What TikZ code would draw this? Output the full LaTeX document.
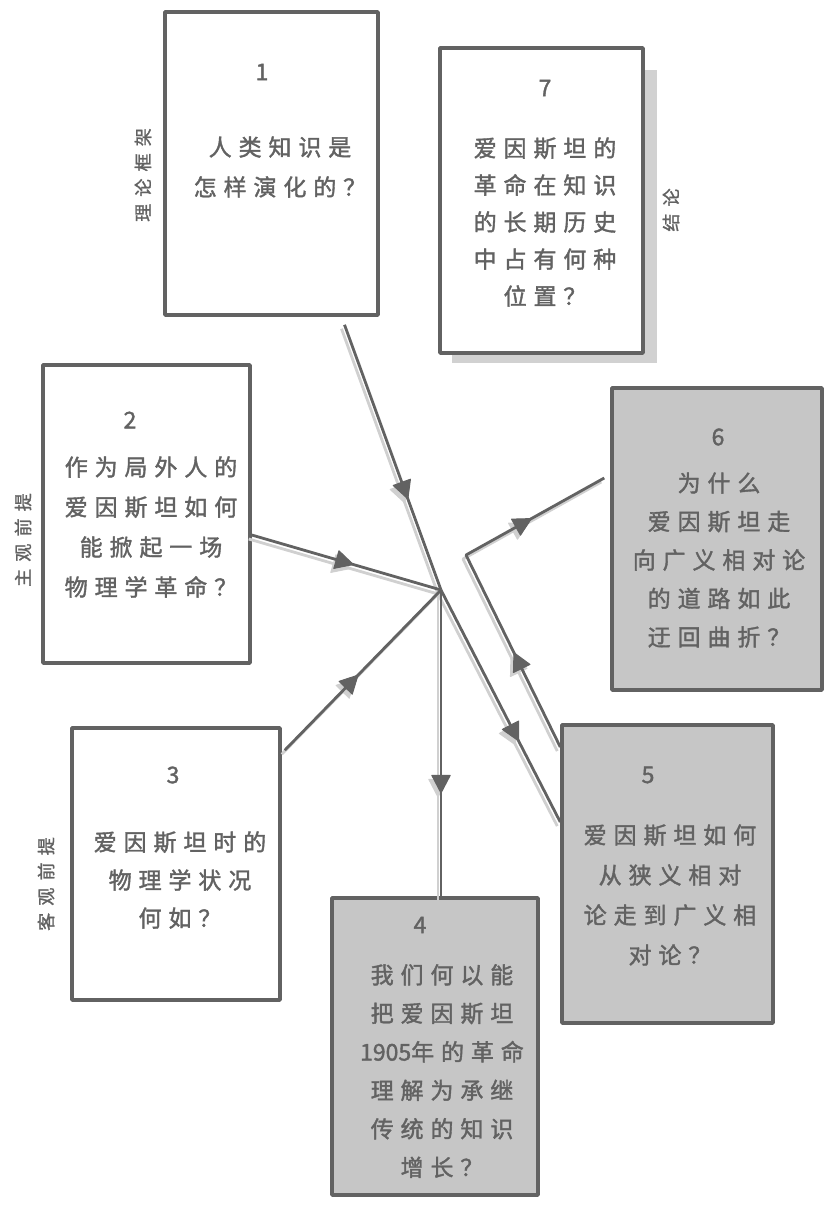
\documentclass[tikz,border=0pt]{standalone}
\usepackage{fontspec}
\setmainfont{Noto Sans CJK SC}
\newfontfamily\cjk[LetterSpace=30,FakeBold=1.6]{Noto Sans CJK SC}
\newfontfamily\cjktight[FakeBold=1.6]{Noto Sans CJK SC}
\newfontfamily\cjkside[LetterSpace=40,FakeBold=1.4]{Noto Sans CJK SC}
\usetikzlibrary{shapes.geometric}
\definecolor{ink}{HTML}{626262}
\definecolor{shade}{HTML}{C6C6C6}
\definecolor{faint}{HTML}{D0D0D0}
\tikzset{
  box/.style={draw=ink, line width=3.5pt, fill=white, inner sep=0pt, line join=round},
  graybox/.style={box, fill=shade},
  qtext/.style={text=ink, font=\cjk\fontsize{23}{38}\selectfont, align=center, inner sep=0pt},
  num/.style={text=ink, font=\cjktight\fontsize{23}{24}\selectfont, inner sep=0pt},
  side/.style={text=ink, font=\cjkside\fontsize{18}{20}\selectfont, rotate=90, inner sep=0pt},
  conn/.style={draw=#1, line width=2.8pt, line join=round},
  ahead/.style={isosceles triangle, isosceles triangle apex angle=55, draw=#1, fill=#1,
     line width=1pt, inner sep=4.5pt, sloped, allow upside down, anchor=center},
}
\newcommand\drawlinks[2]{%
  \draw[conn=#1] (p1) -- (C) node[ahead=#1, pos=0.61] (#2a1) {};
  \draw[conn=#1] (C) -- (p5a) node[ahead=#1, pos=0.60] (#2a2) {};
  \draw[conn=#1] (p2) -- (C) node[ahead=#1, pos=0.47] (#2a3) {};
  \draw[conn=#1] (p3) -- (C) node[ahead=#1, pos=0.41] (#2a4) {};
  \draw[conn=#1] (C) -- (p4) node[ahead=#1, pos=0.62] (#2a5) {};
  \draw[conn=#1] (p5b) -- (B) node[ahead=#1, pos=0.43] (#2a6) {} -- (p6) node[ahead=#1, pos=0.39] (#2a7) {};
}
\begin{document}
\begin{tikzpicture}[x=1pt,y=1pt]
\useasboundingbox (0,0) rectangle (827,-1209);
\fill[white] (0,0) rectangle (827,-1209);

% shadow of box 7
\fill[shade!80] (452,-70) rectangle (657,-363);

% boxes
\node[box, minimum width=213pt, minimum height=303pt] (b1) at (271.5,-163.5) {};
\node[box, minimum width=203pt, minimum height=305pt] (b7) at (541.5,-200.5) {};
\node[box, minimum width=207pt, minimum height=298pt] (b2) at (146.5,-514) {};
\node[box, minimum width=208pt, minimum height=272pt] (b3) at (176,-864) {};
\node[graybox, minimum width=206pt, minimum height=297pt] (b4) at (435,-1046.5) {};
\node[graybox, minimum width=211pt, minimum height=298pt] (b5) at (667.5,-874) {};
\node[graybox, minimum width=210pt, minimum height=302pt] (b6) at (717,-539) {};

% connector end points
\coordinate (C) at (441,-590);
\coordinate (B) at (466,-555);
\coordinate (p1) at ([xshift=73pt,yshift=-8pt]b1.south);
\coordinate (p2) at ([yshift=-21pt]b2.east);
\coordinate (p3) at ([xshift=3pt,yshift=-24pt]b3.north east);
\coordinate (p4) at (C |- b4.north);
\coordinate (p5a) at ([yshift=52pt]b5.west);
\coordinate (p5b) at ([yshift=127pt]b5.west);
\coordinate (p6) at ([xshift=-6pt,yshift=61pt]b6.west);

% connectors: faint shadow, then ink
\begin{scope}[transform canvas={shift={(-3pt,-4pt)}}]
  \drawlinks{faint}{s}
\end{scope}
\drawlinks{ink}{k}

% texts
\node[num] (n1) at (262,-72) {1};
\node[qtext, font=\cjk\fontsize{23}{40}\selectfont] (t1) at (280,-167) {人类知识是\\怎样演化的？};
\node[side] (s1) at (143,-175) {理论框架};

\node[num] (n7) at (545,-88) {7};
\node[qtext, font=\cjk\fontsize{23}{37}\selectfont] (t7) at (545,-222) {爱因斯坦的\\革命在知识\\的长期历史\\中占有何种\\位置？};
\node[side] (s7) at (671,-210) {结论};

\node[num] (n2) at (130,-420) {2};
\node[qtext, font=\cjk\fontsize{23}{40}\selectfont] (t2) at (151,-527) {作为局外人的\\爱因斯坦如何\\能掀起一场\\物理学革命？};
\node[side] (s2) at (23,-540) {主观前提};

\node[num] (n3) at (173,-775) {3};
\node[qtext, font=\cjk\fontsize{23}{38}\selectfont] (t3) at (180,-880) {爱因斯坦时的\\物理学状况\\何如？};
\node[side] (s3) at (46,-884) {客观前提};

\node[num] (n4) at (420,-925) {4};
\node[qtext, font=\cjk\fontsize{23}{38.5}\selectfont] (t4) at (442,-1071) {我们何以能\\把爱因斯坦\\{\cjktight 1905}年的革命\\理解为承继\\传统的知识\\增长？};

\node[num] (n5) at (648,-775) {5};
\node[qtext, font=\cjk\fontsize{23}{40}\selectfont] (t5) at (670,-895) {爱因斯坦如何\\从狭义相对\\论走到广义相\\对论？};

\node[num] (n6) at (718,-437) {6};
\node[qtext, font=\cjk\fontsize{23}{38.5}\selectfont] (t6) at (719,-560) {为什么\\爱因斯坦走\\向广义相对论\\的道路如此\\迂回曲折？};
\end{tikzpicture}
\end{document}
